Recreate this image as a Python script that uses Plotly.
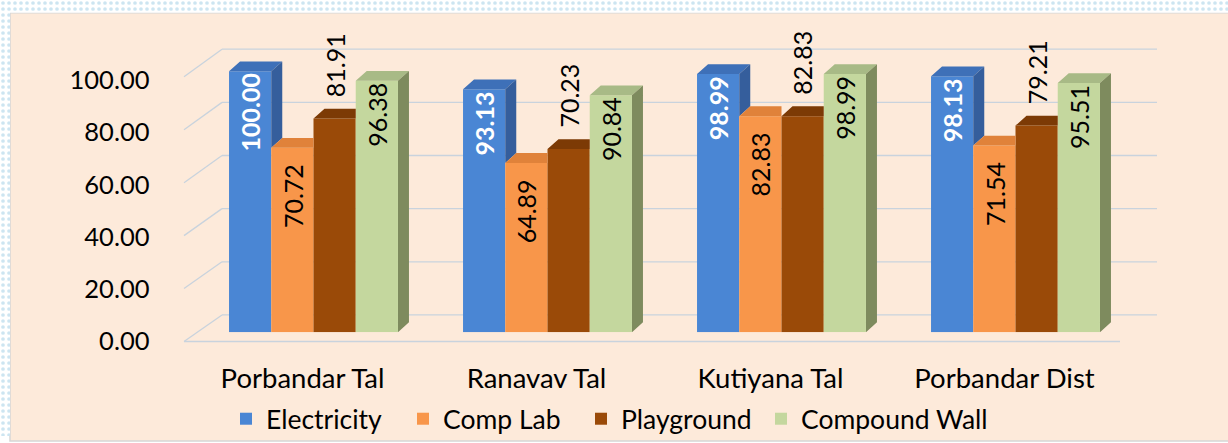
import plotly.graph_objects as go

# ---------------- data ----------------
categories = ["Porbandar Tal", "Ranavav Tal", "Kutiyana Tal", "Porbandar Dist"]
series_names = ["Electricity", "Comp Lab", "Playground", "Compound Wall"]
electricity = [100.00, 93.13, 98.99, 98.13]
comp_lab = [70.72, 64.89, 82.83, 71.54]
playground = [81.91, 70.23, 82.83, 79.21]
compound_wall = [96.38, 90.84, 98.99, 95.51]
y_ticks = [0, 20, 40, 60, 80, 100]

series_values = [electricity, comp_lab, playground, compound_wall]

# ---------------- styling ----------------
front_colors = ["#4A86D4", "#F8964A", "#9A4A08", "#C4D79E"]
top_colors = ["#3E70B8", "#E0823A", "#7C3A05", "#A8BA86"]
side_colors = ["#355E9C", "#C46E2A", "#6C3204", "#7E8B5E"]
label_colors = ["white", "black", "black", "black"]
label_bold = [True, False, False, False]
label_mode = ["in", "in", "out", "in"]
label_shift = [-1, -15, 20, -1]
legend_x_px = [226, 403, 581, 761]

FONT = "Lato, 'Open Sans', sans-serif"
W, H = 1228, 443
PANEL = "#FDEADA"
GRID = "#C9D3DD"


def fx(p):
    return p / W


def fy(p):
    return 1 - p / H


# plot geometry in pixels
X0, X1 = 196.5, 1132.5
Y0PX, PX_PER_UNIT = 337.5, 2.65
YMAX = 110
BARGAP = 0.278
DEPTH_X, DEPTH_Y = 11, 10
LABEL_SHIFT_X = -11  # category labels sit at the front of the 3D floor

n_cat = len(categories)
n_ser = len(series_values)
idx = list(range(n_cat))
px_per_cat = (X1 - X0) / n_cat
group_w = 1 - BARGAP
bar_w = group_w / n_ser
dx = DEPTH_X / px_per_cat
dy = DEPTH_Y / PX_PER_UNIT
offsets = [-group_w / 2 + bar_w * (i + 0.5) for i in range(n_ser)]

fig = go.Figure()

# dotted outer frame (decoration) on a pixel-space helper subplot
fig.add_trace(go.Scatter(
    x=[0, W, W, 0, 0, None, 0, 10, 10, 0, 0],
    y=[0, 0, 13, 13, 0, None, 13, 13, H, H, 13],
    xaxis="x2", yaxis="y2", mode="lines", line=dict(width=0),
    fill="toself", fillcolor="white",
    fillpattern=dict(shape=".", fgcolor="#9CCBE3", bgcolor="white",
                     size=6, solidity=0.3),
    hoverinfo="skip", showlegend=False))

# bars (front faces)
legend_ids = ["legend", "legend2", "legend3", "legend4"]
for i, (name, vals) in enumerate(zip(series_names, series_values)):
    fig.add_trace(go.Bar(
        x=idx, y=vals, name=name, legend=legend_ids[i],
        marker=dict(color=front_colors[i], line=dict(width=0)),
        hoverinfo="x+y"))

# 3D top and side faces derived from the bar values
for i, vals in enumerate(series_values):
    tx, ty, sx, sy = [], [], [], []
    for j, v in enumerate(vals):
        xl = j + offsets[i] - bar_w / 2
        xr = xl + bar_w
        nxt = series_values[i + 1][j] if i < n_ser - 1 else None
        if nxt is not None and nxt >= v:
            tx += [xl, xr, xr, xl + dx, xl, None]
            ty += [v, v, v + dy, v + dy, v, None]
        else:
            tx += [xl, xr, xr + dx, xl + dx, xl, None]
            ty += [v, v, v + dy, v + dy, v, None]
        lower = 0 if nxt is None else nxt
        if nxt is None or nxt < v:
            sx += [xr, xr, xr + dx, xr + dx, xr, None]
            sy += [lower, v, v + dy, lower + dy, lower, None]
    fig.add_trace(go.Scatter(x=tx, y=ty, mode="lines", line=dict(width=0),
                             fill="toself", fillcolor=top_colors[i],
                             hoverinfo="skip", showlegend=False))
    if sx:
        fig.add_trace(go.Scatter(x=sx, y=sy, mode="lines", line=dict(width=0),
                                 fill="toself", fillcolor=side_colors[i],
                                 hoverinfo="skip", showlegend=False))

# data labels
annotations = []
for i, vals in enumerate(series_values):
    for j, v in enumerate(vals):
        txt = f"{v:.2f}"
        if label_bold[i]:
            txt = f"<b>{txt}</b>"
        annotations.append(dict(
            x=j + offsets[i], y=v, xref="x", yref="y", text=txt,
            textangle=-90, showarrow=False, xanchor="center",
            yanchor="top" if label_mode[i] == "in" else "bottom",
            yshift=label_shift[i], borderpad=0,
            font=dict(family=FONT, size=25, color=label_colors[i])))

# wall / floor gridlines (3D look)
shapes = [dict(type="rect", xref="paper", yref="paper",
               x0=fx(10), x1=fx(W + 5), y0=fy(H + 5), y1=fy(13),
               fillcolor=PANEL, line=dict(color="#D6D6D6", width=1.5),
               layer="below")]
for t in y_ticks:
    yb = 320 - 2.7 * t
    yf = 347 - 2.69 * t
    shapes.append(dict(type="line", xref="paper", yref="paper",
                       x0=fx(222), x1=fx(1157), y0=fy(yb), y1=fy(yb),
                       line=dict(color=GRID, width=1.3), layer="below"))
    shapes.append(dict(type="line", xref="paper", yref="paper",
                       x0=fx(184), x1=fx(222), y0=fy(yf), y1=fy(yb),
                       line=dict(color=GRID, width=1.3), layer="below"))
shapes.append(dict(type="line", xref="paper", yref="paper",
                   x0=fx(184), x1=fx(1120), y0=fy(347), y1=fy(347),
                   line=dict(color=GRID, width=1.3), layer="below"))

legend_common = dict(orientation="h", xanchor="left", y=fy(426),
                     yanchor="middle", bgcolor="rgba(0,0,0,0)",
                     font=dict(family=FONT, size=26.5, color="black"))

fig.update_layout(
    width=W, height=H, autosize=False,
    margin=dict(l=0, r=0, t=0, b=0),
    paper_bgcolor="white", plot_bgcolor="rgba(0,0,0,0)",
    barmode="group", bargap=BARGAP, bargroupgap=0,
    font=dict(family=FONT, color="black"),
    xaxis=dict(domain=[fx(X0), fx(X1)], range=[-0.5, n_cat - 0.5],
               tickvals=[j + LABEL_SHIFT_X / px_per_cat for j in idx],
               ticktext=categories, showgrid=False,
               zeroline=False, showline=False, ticks="",
               ticklabelstandoff=27, automargin=False,
               tickfont=dict(family=FONT, size=27.5, color="black"),
               fixedrange=True),
    yaxis=dict(domain=[fy(Y0PX), fy(Y0PX - YMAX * PX_PER_UNIT)],
               range=[0, YMAX], tickvals=y_ticks, tickformat=".2f",
               showgrid=False, zeroline=False, showline=False, ticks="",
               ticklabelshift=9, ticklabelstandoff=46, automargin=False,
               tickfont=dict(family=FONT, size=25.5, color="black"),
               fixedrange=True),
    xaxis2=dict(domain=[0, 1], range=[0, W], visible=False, anchor="y2",
                fixedrange=True),
    yaxis2=dict(domain=[0, 1], range=[H, 0], visible=False, anchor="x2",
                fixedrange=True),
    legend=dict(x=fx(legend_x_px[0]), **legend_common),
    legend2=dict(x=fx(legend_x_px[1]), **legend_common),
    legend3=dict(x=fx(legend_x_px[2]), **legend_common),
    legend4=dict(x=fx(legend_x_px[3]), **legend_common),
    shapes=shapes,
    annotations=annotations,
)

fig.write_html(
    "out.html",
    config={"displayModeBar": False},
    post_script="document.body.style.margin='0';"
                "document.body.style.overflow='hidden';",
)
